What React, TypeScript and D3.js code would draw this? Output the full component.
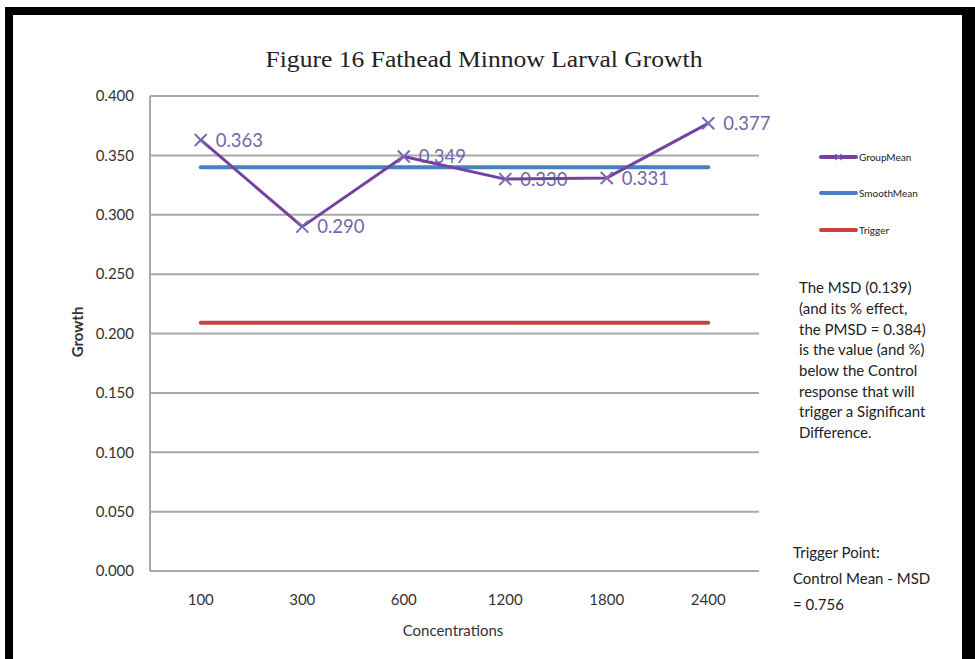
import React from "react";
import * as d3 from "d3";

const categories = ["100", "300", "600", "1200", "1800", "2400"];
const groupMean = [0.363, 0.29, 0.349, 0.33, 0.331, 0.377];
const smoothMean = [0.34, 0.34, 0.34, 0.34, 0.34, 0.34];
const trigger = [0.209, 0.209, 0.209, 0.209, 0.209, 0.209];
const yTicks = [0, 0.05, 0.1, 0.15, 0.2, 0.25, 0.3, 0.35, 0.4];
const legendItems = ["GroupMean", "SmoothMean", "Trigger"];
const noteLines = [
  "The MSD (0.139)",
  "(and its % effect,",
  "the PMSD = 0.384)",
  "is the value (and %)",
  "below the Control",
  "response that will",
  "trigger a Significant",
  "Difference.",
];
const triggerLines = ["Trigger Point:", "Control Mean - MSD", "= 0.756"];

const W = 975;
const H = 659;
const PURPLE = "#7442a0";
const MARK = "#7a68b0";
const LABEL = "#7268a8";
const BLUE = "#4a7fc1";
const RED = "#c8413e";
const GRID = "#a8a8a8";
const FONT = "Lato, 'Open Sans', sans-serif";

export default function App() {
  const x = d3.scalePoint<string>().domain(categories).range([150, 759]).padding(0.5);
  const y = d3.scaleLinear().domain([0, 0.4]).range([571, 96]);

  const line = d3
    .line<number>()
    .x((_, i) => x(categories[i]) as number)
    .y((d) => y(d));

  const xMark = (cx: number, cy: number, s: number, color: string, w = 2, key?: any) => (
    <g key={key} stroke={color} strokeWidth={w}>
      <line x1={cx - s} y1={cy - s} x2={cx + s} y2={cy + s} />
      <line x1={cx - s} y1={cy + s} x2={cx + s} y2={cy - s} />
    </g>
  );

  const legendColors = [PURPLE, BLUE, RED];
  const legendY = [157, 193, 230];

  return (
    <svg
      width={W}
      height={H}
      style={{ position: "absolute", left: 0, top: 0, background: "#fff" }}
      fontFamily={FONT}
    >
      <rect x={0} y={0} width={W} height={H} fill="#fff" />
      {/* frame */}
      <rect x={5} y={7} width={W - 5} height={8} fill="#000" />
      <rect x={5} y={7} width={8} height={H - 7} fill="#000" />
      <rect x={962} y={7} width={13} height={H - 7} fill="#000" />

      {/* title */}
      <text
        x={484}
        y={67}
        textAnchor="middle"
        fontFamily="'Liberation Serif', 'Times New Roman', serif"
        fontSize={23}
        fill="#222"
        textLength={437}
        lengthAdjust="spacingAndGlyphs"
      >
        Figure 16 Fathead Minnow Larval Growth
      </text>

      {/* gridlines */}
      {yTicks.map((t) => (
        <g key={t}>
          <line x1={150} x2={759} y1={y(t)} y2={y(t)} stroke={GRID} strokeWidth={2} />
          <text
            x={134}
            y={y(t)}
            dy="0.35em"
            textAnchor="end"
            fontSize={15}
            fill="#333"
          >
            {d3.format(".3f")(t)}
          </text>
        </g>
      ))}
      <line x1={150} x2={150} y1={y(0.4)} y2={y(0)} stroke={GRID} strokeWidth={2} />

      {/* category labels */}
      {categories.map((c) => (
        <text key={c} x={x(c)} y={600} dy="0.35em" textAnchor="middle" fontSize={15} fill="#333">
          {c}
        </text>
      ))}
      <text x={453} y={631} dy="0.35em" textAnchor="middle" fontSize={15} fill="#333">
        Concentrations
      </text>
      <text
        transform={`translate(78,332) rotate(-90)`}
        textAnchor="middle"
        dy="0.35em"
        fontSize={15}
        fontWeight="bold"
        fill="#333"
      >
        Growth
      </text>

      {/* data labels */}
      {groupMean.map((v, i) => (
        <text
          key={"l" + i}
          x={(x(categories[i]) as number) + 15}
          y={y(v)}
          dy="0.36em"
          fontSize={18.5}
          fill={LABEL}
        >
          {d3.format(".3f")(v)}
        </text>
      ))}

      {/* series */}
      <path d={line(trigger) || ""} fill="none" stroke={RED} strokeWidth={4} strokeLinecap="round" />
      <path d={line(smoothMean) || ""} fill="none" stroke={BLUE} strokeWidth={4} strokeLinecap="round" />
      <path d={line(groupMean) || ""} fill="none" stroke={PURPLE} strokeWidth={3} strokeLinejoin="round" />
      {groupMean.map((v, i) => xMark(x(categories[i]) as number, y(v), 6, MARK, 2, "m" + i))}

      {/* legend */}
      {legendItems.map((name, i) => (
        <g key={name}>
          <line
            x1={821}
            x2={856}
            y1={legendY[i]}
            y2={legendY[i]}
            stroke={legendColors[i]}
            strokeWidth={4}
            strokeLinecap="round"
          />
          {i === 0 && xMark(838.5, legendY[i], 3, MARK, 1.5)}
          <text x={859} y={legendY[i]} dy="0.35em" fontSize={10} fill="#222">
            {name}
          </text>
        </g>
      ))}

      {/* note */}
      {noteLines.map((t, i) => (
        <text key={"n" + i} x={799} y={288 + i * 20.7} dy="0.35em" fontSize={15} fill="#222">
          {t}
        </text>
      ))}
      {triggerLines.map((t, i) => (
        <text key={"t" + i} x={793} y={553 + i * 26} dy="0.35em" fontSize={15} fill="#222">
          {t}
        </text>
      ))}
    </svg>
  );
}
